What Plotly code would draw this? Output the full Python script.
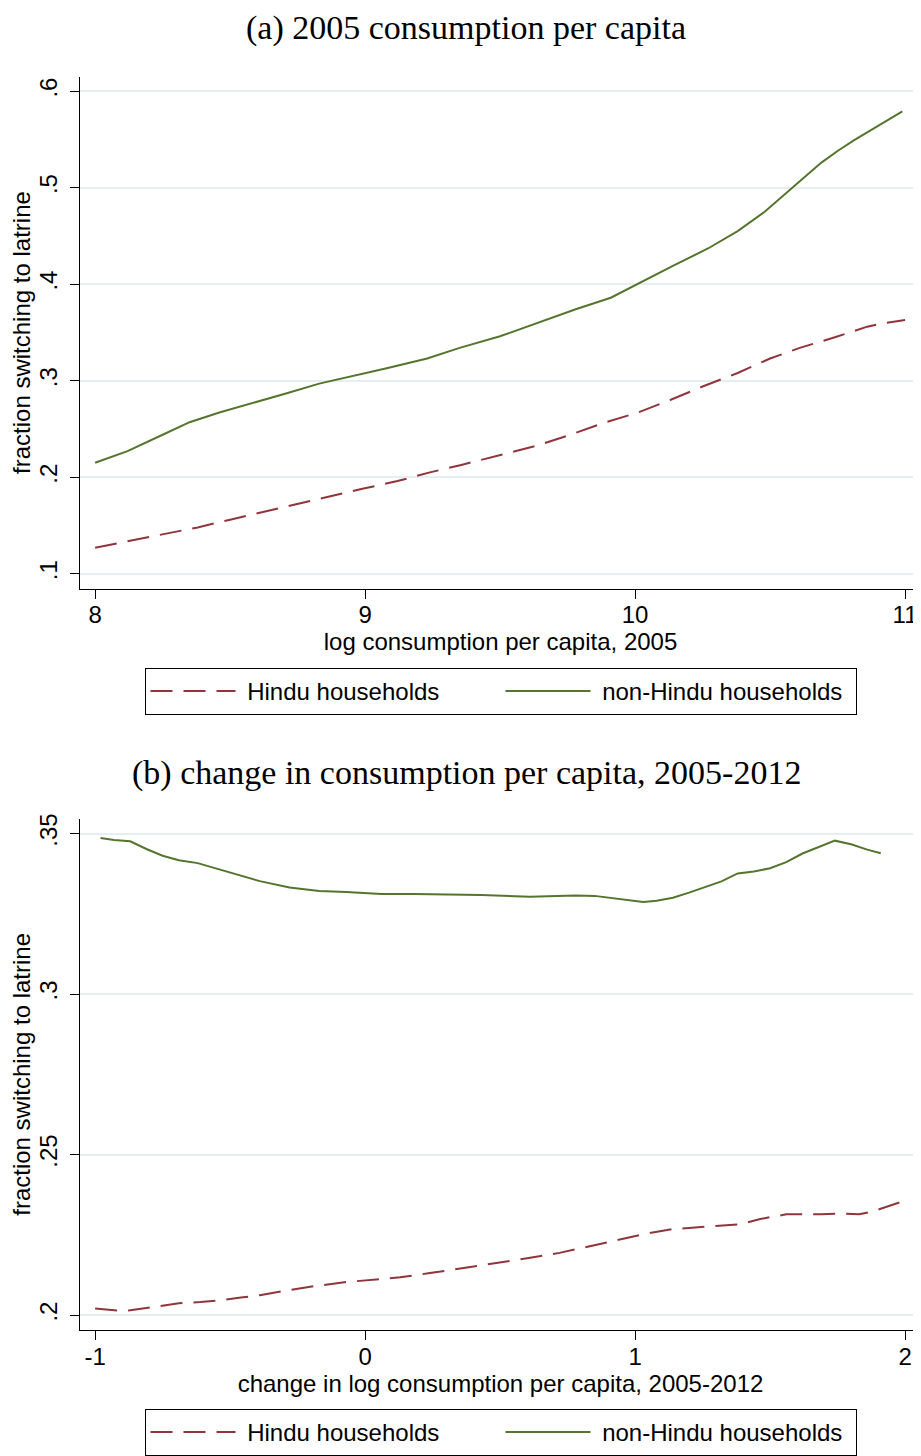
import plotly.graph_objects as go

# ---------------- data ----------------
# (a) 2005 consumption per capita
xa_hindu = [8.0, 8.13, 8.25, 8.38, 8.5, 8.62, 8.75, 8.87, 8.99, 9.12, 9.24, 9.36, 9.49,
            9.64, 9.76, 9.88, 10.01, 10.13, 10.25, 10.38, 10.5, 10.61, 10.74, 10.86, 10.93, 11.0]
ya_hindu = [0.127, 0.134, 0.141, 0.148, 0.156, 0.164, 0.172, 0.180, 0.188, 0.196, 0.205, 0.213, 0.222,
            0.233, 0.244, 0.256, 0.267, 0.280, 0.294, 0.308, 0.323, 0.334, 0.345, 0.356, 0.360, 0.363]
xa_nonhindu = [8.0, 8.12, 8.25, 8.35, 8.46, 8.59, 8.71, 8.83, 8.96, 9.08, 9.23, 9.35, 9.5, 9.65,
               9.78, 9.91, 10.02, 10.14, 10.27, 10.38, 10.48, 10.59, 10.69, 10.75, 10.81, 10.9, 10.99]
ya_nonhindu = [0.215, 0.227, 0.244, 0.257, 0.267, 0.277, 0.287, 0.297, 0.305, 0.313, 0.323, 0.334, 0.346, 0.361,
               0.374, 0.386, 0.402, 0.419, 0.437, 0.455, 0.475, 0.502, 0.526, 0.538, 0.549, 0.564, 0.579]

# (b) change in consumption per capita, 2005-2012
xb_hindu = [-1.0, -0.94, -0.90, -0.87, -0.75, -0.69, -0.61, -0.54, -0.46, -0.39, -0.29, -0.19, -0.07,
            0.06, 0.13, 0.24, 0.36, 0.5, 0.6, 0.72, 0.85, 0.97, 1.06, 1.14, 1.27, 1.39, 1.46, 1.56,
            1.69, 1.76, 1.83, 1.88, 1.94, 2.0]
yb_hindu = [0.2021, 0.2015, 0.2013, 0.2015, 0.2031, 0.2037, 0.2041, 0.2046, 0.2055, 0.2062, 0.2077, 0.2090, 0.2103,
            0.2112, 0.2118, 0.2131, 0.2146, 0.2164, 0.2177, 0.2194, 0.2218, 0.2242, 0.2257, 0.2268, 0.2276, 0.2283,
            0.2299, 0.2314, 0.2314, 0.2317, 0.2314, 0.2323, 0.2340, 0.2357]
xb_nonhindu = [-0.98, -0.93, -0.87, -0.81, -0.75, -0.69, -0.62, -0.53, -0.46, -0.39, -0.28, -0.17, -0.07,
               0.06, 0.18, 0.30, 0.43, 0.61, 0.78, 0.85, 0.91, 1.03, 1.08, 1.14, 1.20, 1.32, 1.38, 1.44,
               1.50, 1.56, 1.62, 1.74, 1.80, 1.86, 1.91]
yb_nonhindu = [0.3486, 0.3480, 0.3476, 0.3452, 0.3431, 0.3417, 0.3408, 0.3387, 0.3369, 0.3352, 0.3332, 0.3321,
               0.3318, 0.3312, 0.3312, 0.3311, 0.3309, 0.3303, 0.3307, 0.3306, 0.3299, 0.3287, 0.3291, 0.3300,
               0.3316, 0.3351, 0.3376, 0.3382, 0.3392, 0.3411, 0.3438, 0.3478, 0.3467, 0.3450, 0.3439]

series_names = ["Hindu households", "non-Hindu households"]
titles = ["(a) 2005 consumption per capita", "(b) change in consumption per capita, 2005-2012"]
x_titles = ["log consumption per capita, 2005", "change in log consumption per capita, 2005-2012"]
y_title = "fraction switching to latrine"
xa_ticks = [8, 9, 10, 11]
xa_ticklabels = ["8", "9", "10", "11"]
ya_ticks = [0.1, 0.2, 0.3, 0.4, 0.5, 0.6]
ya_ticklabels = [".1", ".2", ".3", ".4", ".5", ".6"]
xb_ticks = [-1, 0, 1, 2]
xb_ticklabels = ["-1", "0", "1", "2"]
yb_ticks = [0.2, 0.25, 0.3, 0.35]
yb_ticklabels = [".2", ".25", ".3", ".35"]

# ---------------- style ----------------
OFF = 8                      # default page body margin
W, H = 921 - OFF, 1456 - OFF
MAROON = "#90353B"
GREEN = "#55752F"
GRID = "#E6EEF1"
SANS = "Liberation Sans, Arial, sans-serif"
SERIF = "Liberation Serif, Times New Roman, serif"
FS = 24
GAP = "\u00a0"   # small gap between legend key and its label


def px_x(p):
    return (p - OFF) / W


def px_y(p):
    return 1 - (p - OFF) / H


fig = go.Figure()

dash_style = "22px,11px"
fig.add_trace(go.Scatter(x=xa_hindu, y=ya_hindu, mode="lines", name=GAP + series_names[0],
                         line=dict(color=MAROON, width=2, dash=dash_style),
                         xaxis="x", yaxis="y", legend="legend"))
fig.add_trace(go.Scatter(x=xa_nonhindu, y=ya_nonhindu, mode="lines", name=GAP + series_names[1],
                         line=dict(color=GREEN, width=2),
                         xaxis="x", yaxis="y", legend="legend"))
fig.add_trace(go.Scatter(x=xb_hindu, y=yb_hindu, mode="lines", name=GAP + series_names[0],
                         line=dict(color=MAROON, width=2, dash=dash_style),
                         xaxis="x2", yaxis="y2", legend="legend2"))
fig.add_trace(go.Scatter(x=xb_nonhindu, y=yb_nonhindu, mode="lines", name=GAP + series_names[1],
                         line=dict(color=GREEN, width=2),
                         xaxis="x2", yaxis="y2", legend="legend2"))

xdom = [px_x(80), 1.0]

common_x = dict(showline=True, linecolor="black", linewidth=1.2, ticks="outside", ticklen=9,
                tickcolor="black", tickwidth=1.2, showgrid=False, zeroline=False,
                ticklabelstandoff=-4,
                tickfont=dict(family=SANS, size=FS, color="black"),
                title_font=dict(family=SANS, size=FS, color="black"), title_standoff=2)
common_y = dict(showline=True, linecolor="black", linewidth=1.2, ticks="outside", ticklen=9,
                tickcolor="black", tickwidth=1.2, showgrid=True, gridcolor=GRID, gridwidth=2,
                zeroline=False, tickangle=-90, ticklabelstandoff=3,
                tickfont=dict(family=SANS, size=FS, color="black"),
                title_font=dict(family=SANS, size=FS, color="black"), title_standoff=1)

legend_common = dict(orientation="h", xanchor="center", yanchor="top", x=px_x(500.5),
                     bordercolor="black", borderwidth=1, bgcolor="white",
                     font=dict(family=SANS, size=FS, color="black"),
                     itemwidth=85, entrywidth=255, itemclick=False, itemdoubleclick=False)

fig.update_layout(
    width=W, height=H,
    margin=dict(l=0, r=0, t=0, b=0),
    paper_bgcolor="white", plot_bgcolor="white",
    xaxis=dict(domain=xdom, anchor="y", range=[7.944, 11.059], tickvals=xa_ticks,
               ticktext=xa_ticklabels, title_text=x_titles[0], **common_x),
    yaxis=dict(domain=[px_y(588), px_y(72)], anchor="x", range=[0.0846, 0.6152],
               tickvals=ya_ticks, ticktext=ya_ticklabels, title_text=y_title, **common_y),
    xaxis2=dict(domain=xdom, anchor="y2", range=[-1.056, 2.059], tickvals=xb_ticks,
                ticktext=xb_ticklabels, title_text=x_titles[1], **common_x),
    yaxis2=dict(domain=[px_y(1335), px_y(820)], anchor="x2", range=[0.1954, 0.3546],
                tickvals=yb_ticks, ticktext=yb_ticklabels, title_text=y_title, **common_y),
    legend=dict(y=px_y(668), **legend_common),
    legend2=dict(y=px_y(1415), **legend_common),
    annotations=[
        dict(text=titles[0], x=px_x(466), y=px_y(23), xref="paper", yref="paper",
             xanchor="center", yanchor="middle", showarrow=False,
             font=dict(family=SERIF, size=34, color="black")),
        dict(text=titles[1], x=px_x(466), y=px_y(774), xref="paper", yref="paper",
             xanchor="center", yanchor="middle", showarrow=False,
             font=dict(family=SERIF, size=34, color="black")),
    ],
)

fig.write_html("out.html")
